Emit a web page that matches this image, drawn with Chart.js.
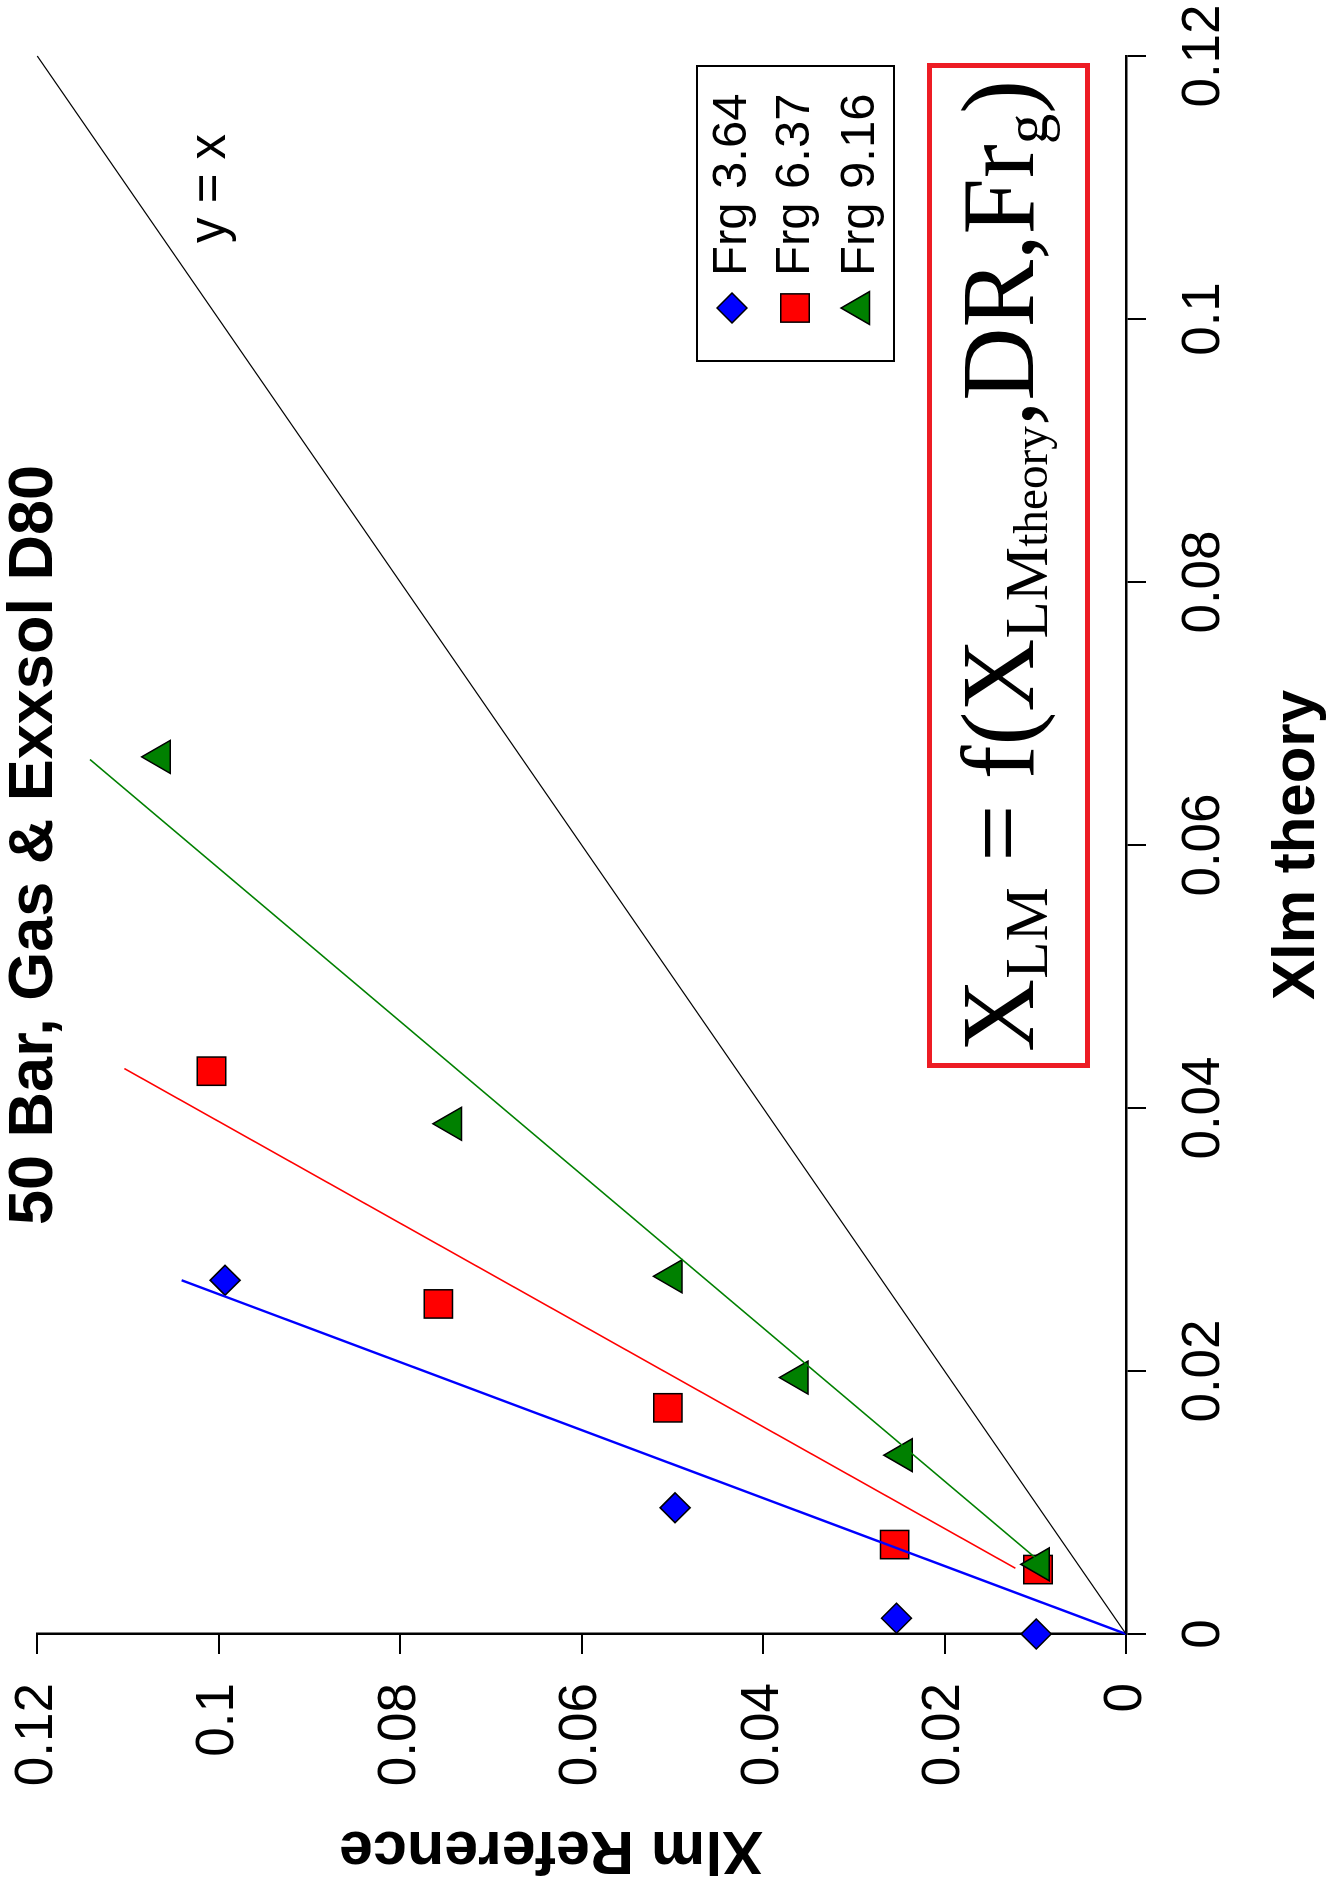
<!DOCTYPE html>
<html>
<head>
<meta charset="utf-8">
<title>50 Bar, Gas &amp; Exxsol D80</title>
<script src="https://cdn.jsdelivr.net/npm/chart.js@4.4.1/dist/chart.umd.min.js"></script>
<style>
  html, body { margin: 0; padding: 0; background: #fff; }
  body { width: 1332px; height: 1888px; overflow: hidden; position: relative; }
  /* the chart is drawn upright and then turned a quarter turn to the left, like the picture */
  #wrap { position: absolute; left: 0; top: 0; width: 1888px; height: 1332px;
          transform-origin: 0 0; transform: translate(0px, 1888px) rotate(-90deg); }
</style>
</head>
<body>
<div id="wrap"><canvas id="xlmChart" width="1888" height="1332"></canvas></div>
<script>
const titleText = '50 Bar, Gas & Exxsol D80';
const xTitle = 'Xlm theory';
const yTitle = 'Xlm Reference';
const tickLabels = ['0', '0.02', '0.04', '0.06', '0.08', '0.1', '0.12'];
const seriesNames = ['Frg 3.64', 'Frg 6.37', 'Frg 9.16'];

// measured points (x = Xlm theory, y = Xlm Reference)
const frg364Theory = [0.0000, 0.0012, 0.0096, 0.0269];
const frg364Ref    = [0.0099, 0.0253, 0.0497, 0.0993];
const frg637Theory = [0.0049, 0.0068, 0.0172, 0.0251, 0.0428];
const frg637Ref    = [0.0097, 0.0255, 0.0505, 0.0758, 0.1008];
const frg916Theory = [0.0053, 0.0136, 0.0195, 0.0272, 0.0388, 0.0667];
const frg916Ref    = [0.0095, 0.0246, 0.0361, 0.0500, 0.0743, 0.1064];

// trend lines, end points
const fit364Theory = [0, 0.0269];
const fit364Ref    = [0, 0.1041];
const fit637Theory = [0.0050, 0.0430];
const fit637Ref    = [0.0122, 0.1104];
const fit916Theory = [0.0058, 0.0665];
const fit916Ref    = [0.0100, 0.1142];
const identityTheory = [0, 0.12];
const identityRef    = [0, 0.12];

const FONT = "'Liberation Sans', Arial, sans-serif";
const SERIF = "'Liberation Serif', 'Times New Roman', serif";
Chart.defaults.font.family = FONT;
Chart.defaults.color = '#000';

function pts(xs, ys) {
    return xs.map((x, i) => ({ x: x, y: ys[i] }));
}

function fitLine(label, xs, ys, color, width) {
    return {
        label: label, data: pts(xs, ys), showLine: true, fill: false,
        borderColor: color, borderWidth: width, pointRadius: 0, order: 1, clip: false
    };
}

function markers(label, xs, ys, style, radius, color, order) {
    return {
        label: label, data: pts(xs, ys), showLine: false,
        pointStyle: style, pointRadius: radius,
        pointBackgroundColor: color, pointBorderColor: '#000', pointBorderWidth: 1.5,
        backgroundColor: color, borderColor: '#000', order: order, clip: false
    };
}

function drawMarker(ctx, style, radius, x, y) {
    if (Chart.helpers && Chart.helpers.drawPoint) {
        Chart.helpers.drawPoint(ctx, { pointStyle: style, radius: radius, rotation: 0, borderWidth: ctx.lineWidth }, x, y);
        return;
    }
    ctx.beginPath();
    if (style === 'rectRot') {
        ctx.moveTo(x - radius, y); ctx.lineTo(x, y - radius); ctx.lineTo(x + radius, y); ctx.lineTo(x, y + radius);
    } else if (style === 'rect') {
        const s = radius * Math.SQRT1_2;
        ctx.rect(x - s, y - s, 2 * s, 2 * s);
    } else {
        ctx.moveTo(x, y - radius);
        ctx.lineTo(x + radius * 0.866, y + radius / 2);
        ctx.lineTo(x - radius * 0.866, y + radius / 2);
    }
    ctx.closePath();
    ctx.fill();
    ctx.stroke();
}

// y axis title, legend box, the "y = x" note and the framed formula
const notesPlugin = {
    id: 'notes',
    afterDraw(chart) {
        const ctx = chart.ctx;
        ctx.save();

        ctx.fillStyle = '#000';
        ctx.save();
        ctx.translate(39, 551);
        ctx.rotate(-Math.PI / 2);
        ctx.font = 'bold 61px ' + FONT;
        ctx.textAlign = 'center';
        ctx.textBaseline = 'middle';
        ctx.fillText(yTitle, 0, 0);
        ctx.restore();

        ctx.font = '51px ' + FONT;
        ctx.textAlign = 'left';
        ctx.textBaseline = 'alphabetic';
        ctx.fillText('y = x', 1645, 225);

        // legend
        ctx.lineWidth = 2;
        ctx.strokeStyle = '#000';
        ctx.strokeRect(1527, 697, 295, 197);
        const rows = [732, 795, 860];
        seriesNames.forEach((name, i) => {
            const ds = chart.data.datasets.find(d => d.label === name);
            ctx.fillStyle = ds.pointBackgroundColor;
            ctx.strokeStyle = '#000';
            ctx.lineWidth = 1.5;
            drawMarker(ctx, ds.pointStyle, ds.pointRadius, 1580, rows[i]);
            ctx.fillStyle = '#000';
            ctx.font = '49px ' + FONT;
            ctx.textBaseline = 'middle';
            ctx.fillText(name, 1612, rows[i]);
        });

        // formula
        ctx.strokeStyle = '#ed1c24';
        ctx.lineWidth = 5;
        ctx.strokeRect(822.5, 929.5, 1000, 158);

        const runs = [
            { t: 'X', k: 'm' }, { t: 'LM', k: 's' }, { t: ' = ', k: 'm' }, { t: 'f(X', k: 'm' },
            { t: 'LM', k: 's' }, { t: 'theory', k: 't' }, { t: ',DR,Fr', k: 'm' }, { t: 'g', k: 's' }, { t: ')', k: 'm' }
        ];
        const sizes = { m: { size: 103, dy: 0 }, s: { size: 62, dy: 14 }, t: { size: 48, dy: 14 } };
        let total = 0;
        runs.forEach(r => {
            ctx.font = sizes[r.k].size + 'px ' + SERIF;
            r.w = ctx.measureText(r.t).width;
            total += r.w;
        });
        const k = 972 / total;
        ctx.translate(836, 1033);
        ctx.scale(k, 1);
        ctx.fillStyle = '#000';
        ctx.textBaseline = 'alphabetic';
        let cx = 0;
        runs.forEach(r => {
            ctx.font = sizes[r.k].size + 'px ' + SERIF;
            ctx.fillText(r.t, cx, sizes[r.k].dy);
            cx += r.w;
        });

        ctx.restore();
    }
};

const xlmChart = new Chart(document.getElementById('xlmChart'), {
    type: 'scatter',
    data: {
        datasets: [
            fitLine('y = x', identityTheory, identityRef, '#000', 1.2),
            fitLine('fit 9.16', fit916Theory, fit916Ref, '#008000', 1.6),
            fitLine('fit 6.37', fit637Theory, fit637Ref, '#ff0000', 1.6),
            fitLine('fit 3.64', fit364Theory, fit364Ref, '#0000ff', 2.4),
            markers(seriesNames[2], frg916Theory, frg916Ref, 'triangle', 19, '#008000', 3),
            markers(seriesNames[1], frg637Theory, frg637Ref, 'rect', 20, '#ff0000', 4),
            markers(seriesNames[0], frg364Theory, frg364Ref, 'rectRot', 15, '#0000ff', 5)
        ]
    },
    options: {
        responsive: false,
        animation: false,
        events: [],
        layout: { padding: { left: 0, right: 56, top: 1, bottom: 0 } },
        plugins: {
            legend: { display: false },
            tooltip: { enabled: false },
            title: {
                display: true, text: titleText, fullSize: false, color: '#000',
                font: { size: 63, weight: 'bold', lineHeight: 0.1 },
                padding: { top: 30, bottom: 0 }
            }
        },
        scales: {
            x: {
                type: 'linear', position: 'bottom', min: 0, max: 0.12,
                ticks: {
                    stepSize: 0.02, autoSkip: false, maxRotation: 0, padding: 27,
                    font: { size: 53 }, color: '#000',
                    callback: v => tickLabels[Math.round(v / 0.02)]
                },
                grid: { drawOnChartArea: false, drawTicks: true, tickLength: 20, color: '#000', lineWidth: 2 },
                border: { display: true, color: '#000', width: 2.5 },
                title: {
                    display: true, text: xTitle, color: '#000',
                    font: { size: 60, weight: 'bold', lineHeight: 1 },
                    padding: { top: 0, bottom: 5 }
                },
                afterFit: s => { s.height = 206; s.paddingLeft = 0; s.paddingRight = 0; }
            },
            y: {
                type: 'linear', position: 'left', min: 0, max: 0.12,
                ticks: {
                    stepSize: 0.02, autoSkip: false, padding: 29,
                    font: { size: 53 }, color: '#000',
                    callback: v => tickLabels[Math.round(v / 0.02)]
                },
                grid: { drawOnChartArea: false, drawTicks: true, tickLength: 20, color: '#000', lineWidth: 2 },
                border: { display: true, color: '#000', width: 2.5 },
                title: { display: false, text: yTitle },
                afterFit: s => { s.width = 254; s.paddingTop = 0; s.paddingBottom = 0; }
            }
        }
    },
    plugins: [notesPlugin]
});
</script>
</body>
</html>
